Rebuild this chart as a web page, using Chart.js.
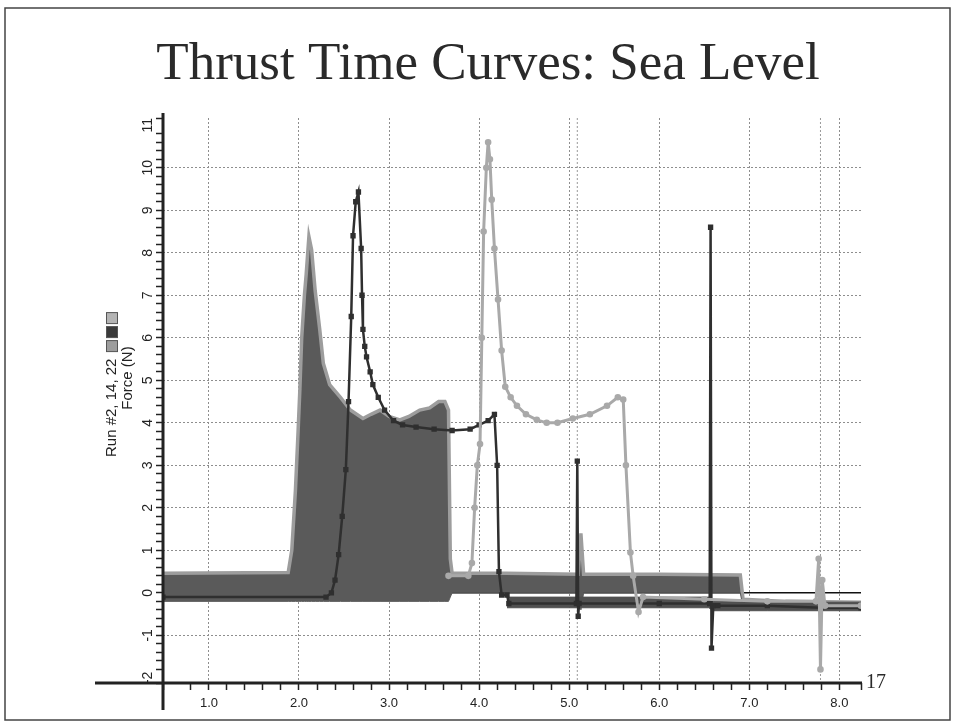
<!DOCTYPE html>
<html>
<head>
<meta charset="utf-8">
<script src="https://cdn.jsdelivr.net/npm/chart.js@4.4.1/dist/chart.umd.min.js"></script>
<style>
  html, body { margin: 0; padding: 0; background: #fff; }
  canvas { display: block; }
</style>
</head>
<body>
<canvas id="thrustChart" width="955" height="723"></canvas>
<script>
// Run #2: dense noisy trace, drawn as an upper/lower envelope
var run2Time = [0.49, 1.88, 1.92, 1.96, 1.99, 2.01, 2.03, 2.06, 2.08, 2.11, 2.14, 2.18, 2.23, 2.27, 2.34, 2.46, 2.57, 2.71, 2.80, 2.90, 3.00, 3.12, 3.22, 3.34, 3.45, 3.55, 3.62, 3.66, 3.68, 3.70, 4.30, 5.10, 5.13, 5.16, 6.00, 6.90, 6.93, 7.40, 8.24];
var run2High = [0.46, 0.48, 1.0, 2.4, 3.8, 4.8, 6.0, 7.0, 7.5, 8.38, 8.07, 7.1, 6.2, 5.4, 4.9, 4.6, 4.3, 4.1, 4.2, 4.3, 4.15, 4.07, 4.15, 4.3, 4.35, 4.5, 4.5, 4.3, 0.8, 0.46, 0.46, 0.44, 1.4, 0.44, 0.44, 0.42, -0.15, -0.2, -0.22];
var run2Low = [-0.2, -0.2, -0.2, -0.2, -0.2, -0.2, -0.2, -0.2, -0.2, -0.2, -0.2, -0.2, -0.2, -0.2, -0.2, -0.2, -0.2, -0.2, -0.2, -0.2, -0.2, -0.2, -0.2, -0.2, -0.2, -0.2, -0.2, -0.2, -0.1, 0.0, 0.0, 0.0, -0.4, 0.0, 0.0, 0.0, -0.35, -0.35, -0.38];

// Run #14
var run14Time = [0.49, 2.30, 2.36, 2.40, 2.44, 2.48, 2.52, 2.55, 2.58, 2.60, 2.63, 2.66, 2.69, 2.70, 2.71, 2.73, 2.75, 2.79, 2.82, 2.88, 2.95, 3.05, 3.15, 3.30, 3.50, 3.70, 3.90, 4.00, 4.10, 4.17, 4.20, 4.22, 4.25, 4.31, 4.33, 5.08, 5.09, 5.10, 5.11, 6.00, 6.56, 6.57, 6.58, 6.60, 6.65, 7.20, 7.80, 8.24];
var run14Force = [-0.1, -0.1, 0.0, 0.3, 0.9, 1.8, 2.9, 4.5, 6.5, 8.4, 9.2, 9.43, 8.1, 7.0, 6.2, 5.8, 5.55, 5.2, 4.9, 4.6, 4.3, 4.05, 3.95, 3.9, 3.85, 3.82, 3.85, 3.95, 4.05, 4.2, 3.0, 0.5, -0.05, -0.05, -0.25, -0.25, 3.1, -0.55, -0.25, -0.25, -0.25, 8.6, -1.3, -0.3, -0.3, -0.3, -0.35, -0.35];
var run14BandTime = [4.31, 6.55, 6.60, 7.20, 8.24];
var run14BandHigh = [-0.1, -0.1, -0.2, -0.22, -0.22];
var run14BandLow = [-0.35, -0.35, -0.42, -0.42, -0.42];

// Run #22
var run22Time = [3.66, 3.88, 3.92, 3.95, 3.98, 4.01, 4.03, 4.05, 4.08, 4.10, 4.12, 4.14, 4.17, 4.21, 4.25, 4.29, 4.35, 4.42, 4.52, 4.64, 4.75, 4.87, 5.04, 5.23, 5.42, 5.54, 5.60, 5.63, 5.68, 5.71, 5.77, 5.82, 6.50, 7.20, 7.74, 7.77, 7.79, 7.81, 7.84, 8.24];
var run22Force = [0.4, 0.4, 0.7, 2.0, 3.0, 3.5, 6.0, 8.5, 10.0, 10.6, 10.2, 9.25, 8.1, 6.9, 5.7, 4.85, 4.6, 4.4, 4.2, 4.07, 4.0, 4.0, 4.1, 4.2, 4.4, 4.6, 4.55, 3.0, 0.95, 0.4, -0.45, -0.1, -0.15, -0.2, -0.2, 0.8, -1.8, 0.3, -0.3, -0.3];

var cursorTimes = [5.09, 7.79];
var legendColors = ['#9d9d9d', '#3a3a3a', '#b4b4b4'];

function pts(xs, ys) {
  return xs.map(function (x, i) { return { x: x, y: ys[i] }; });
}
function isWhole(v) {
  return Math.abs(v - Math.round(v)) < 1e-6;
}

var pageDecor = {
  id: 'pageDecor',
  beforeDatasetsDraw: function (chart) {
    var ctx = chart.ctx, xs = chart.scales.x, ys = chart.scales.y, area = chart.chartArea;
    ctx.save();
    var y0 = ys.getPixelForValue(0);
    ctx.strokeStyle = '#111';
    ctx.lineWidth = 1.5;
    ctx.beginPath();
    ctx.moveTo(area.left, y0);
    ctx.lineTo(area.right, y0);
    ctx.stroke();
    ctx.strokeStyle = '#9a9a9a';
    ctx.lineWidth = 1;
    ctx.setLineDash([2, 2]);
    cursorTimes.forEach(function (t) {
      var px = xs.getPixelForValue(t);
      ctx.beginPath();
      ctx.moveTo(px, area.top);
      ctx.lineTo(px, area.bottom);
      ctx.stroke();
    });
    ctx.restore();
  },
  afterDraw: function (chart) {
    var ctx = chart.ctx, ys = chart.scales.y, area = chart.chartArea;
    ctx.save();

    // thick axes, running past each other like the original
    ctx.strokeStyle = '#222';
    ctx.lineWidth = 3;
    ctx.beginPath();
    ctx.moveTo(area.left, area.top - 5);
    ctx.lineTo(area.left, area.bottom + 27);
    ctx.moveTo(95, area.bottom);
    ctx.lineTo(area.right + 1, area.bottom);
    ctx.stroke();

    // rotated y tick labels
    ctx.fillStyle = '#222';
    ctx.font = '14px "Liberation Sans"';
    ctx.textAlign = 'center';
    ctx.textBaseline = 'middle';
    for (var v = Math.ceil(ys.min); v <= Math.floor(ys.max); v++) {
      ctx.save();
      ctx.translate(148, ys.getPixelForValue(v));
      ctx.rotate(-Math.PI / 2);
      ctx.fillText(String(v), 0, 0);
      ctx.restore();
    }

    // y axis title with the three legend swatches
    ctx.font = '15px "Liberation Sans"';
    ctx.save();
    ctx.translate(112, 457);
    ctx.rotate(-Math.PI / 2);
    ctx.textAlign = 'left';
    var runText = 'Run #2, 14, 22';
    ctx.fillText(runText, 0, 0);
    var w = ctx.measureText(runText).width;
    legendColors.forEach(function (c, i) {
      ctx.fillStyle = c;
      ctx.fillRect(w + 7 + i * 14, -5.5, 11, 11);
      ctx.strokeStyle = '#555';
      ctx.lineWidth = 1;
      ctx.strokeRect(w + 7 + i * 14, -5.5, 11, 11);
    });
    ctx.restore();
    ctx.save();
    ctx.translate(128, 378);
    ctx.rotate(-Math.PI / 2);
    ctx.fillStyle = '#222';
    ctx.fillText('Force (N)', 0, 0);
    ctx.restore();

    // slide title
    ctx.fillStyle = '#2a2a2a';
    ctx.font = '53px "Liberation Serif"';
    ctx.textAlign = 'center';
    ctx.textBaseline = 'alphabetic';
    ctx.fillText('Thrust Time Curves: Sea Level', 488, 79);

    // page number
    ctx.font = '20px "Liberation Serif"';
    ctx.textAlign = 'left';
    ctx.fillText('17', 866, 688);

    // slide frame
    ctx.strokeStyle = '#444';
    ctx.lineWidth = 1.5;
    ctx.strokeRect(5, 8, 945, 712);
    ctx.restore();
  }
};

var gridColor = function (c) {
  return c.tick && isWhole(c.tick.value) ? '#8e8e8e' : 'rgba(0,0,0,0)';
};

var config = {
  type: 'scatter',
  data: {
    datasets: [
      {
        label: 'Run #22',
        data: pts(run22Time, run22Force),
        showLine: true,
        borderColor: '#a9a9a9',
        backgroundColor: '#a9a9a9',
        borderWidth: 3,
        pointStyle: 'circle',
        pointRadius: 1.8,
        fill: false,
      },
      {
        label: 'Run #14',
        data: pts(run14Time, run14Force),
        showLine: true,
        borderColor: '#2f2f2f',
        backgroundColor: '#2f2f2f',
        borderWidth: 2.5,
        pointStyle: 'rect',
        pointRadius: 2,
        fill: false,
      },
      {
        label: 'Run #14 noise low',
        data: pts(run14BandTime, run14BandLow),
        showLine: true,
        borderColor: '#505050',
        borderWidth: 1,
        pointRadius: 0,
        fill: false,
      },
      {
        label: 'Run #14 noise high',
        data: pts(run14BandTime, run14BandHigh),
        showLine: true,
        borderColor: '#505050',
        backgroundColor: '#505050',
        borderWidth: 1,
        pointRadius: 0,
        fill: 2,
      },
      {
        label: 'Run #2 low',
        data: pts(run2Time, run2Low),
        showLine: true,
        borderColor: '#5a5a5a',
        borderWidth: 1,
        pointRadius: 0,
        fill: false,
      },
      {
        label: 'Run #2 high',
        data: pts(run2Time, run2High),
        showLine: true,
        borderColor: '#9d9d9d',
        backgroundColor: '#5a5a5a',
        borderWidth: 3.5,
        pointRadius: 0,
        fill: 4,
      },
    ],
  },
  options: {
    responsive: false,
    animation: false,
    layout: { padding: { top: 118, right: 94, left: 0, bottom: 0 } },
    elements: { line: { tension: 0 } },
    plugins: {
      legend: { display: false },
      tooltip: { enabled: false },
      title: { display: false },
    },
    scales: {
      x: {
        type: 'linear',
        min: 0.49,
        max: 8.24,
        afterFit: function (s) { s.height = 40; },
        border: { display: false, dash: [2, 2] },
        grid: { color: gridColor, lineWidth: 1, tickColor: '#222', tickWidth: 1.5, tickLength: 7 },
        ticks: {
          stepSize: 0.2,
          autoSkip: false,
          maxRotation: 0,
          padding: 6,
          color: '#222',
          font: { family: 'Liberation Sans', size: 13 },
          callback: function (v) { return isWhole(v) ? Number(v).toFixed(1) : ''; },
        },
      },
      y: {
        type: 'linear',
        min: -2.12,
        max: 11.17,
        afterFit: function (s) { s.width = 163; },
        border: { display: false, dash: [2, 2] },
        grid: { color: gridColor, lineWidth: 1, tickColor: '#222', tickWidth: 1.5, tickLength: 7 },
        ticks: { stepSize: 0.2, autoSkip: false, display: false },
      },
    },
  },
  plugins: [pageDecor],
};

var thrustChart = new Chart(document.getElementById('thrustChart'), config);
</script>
</body>
</html>
